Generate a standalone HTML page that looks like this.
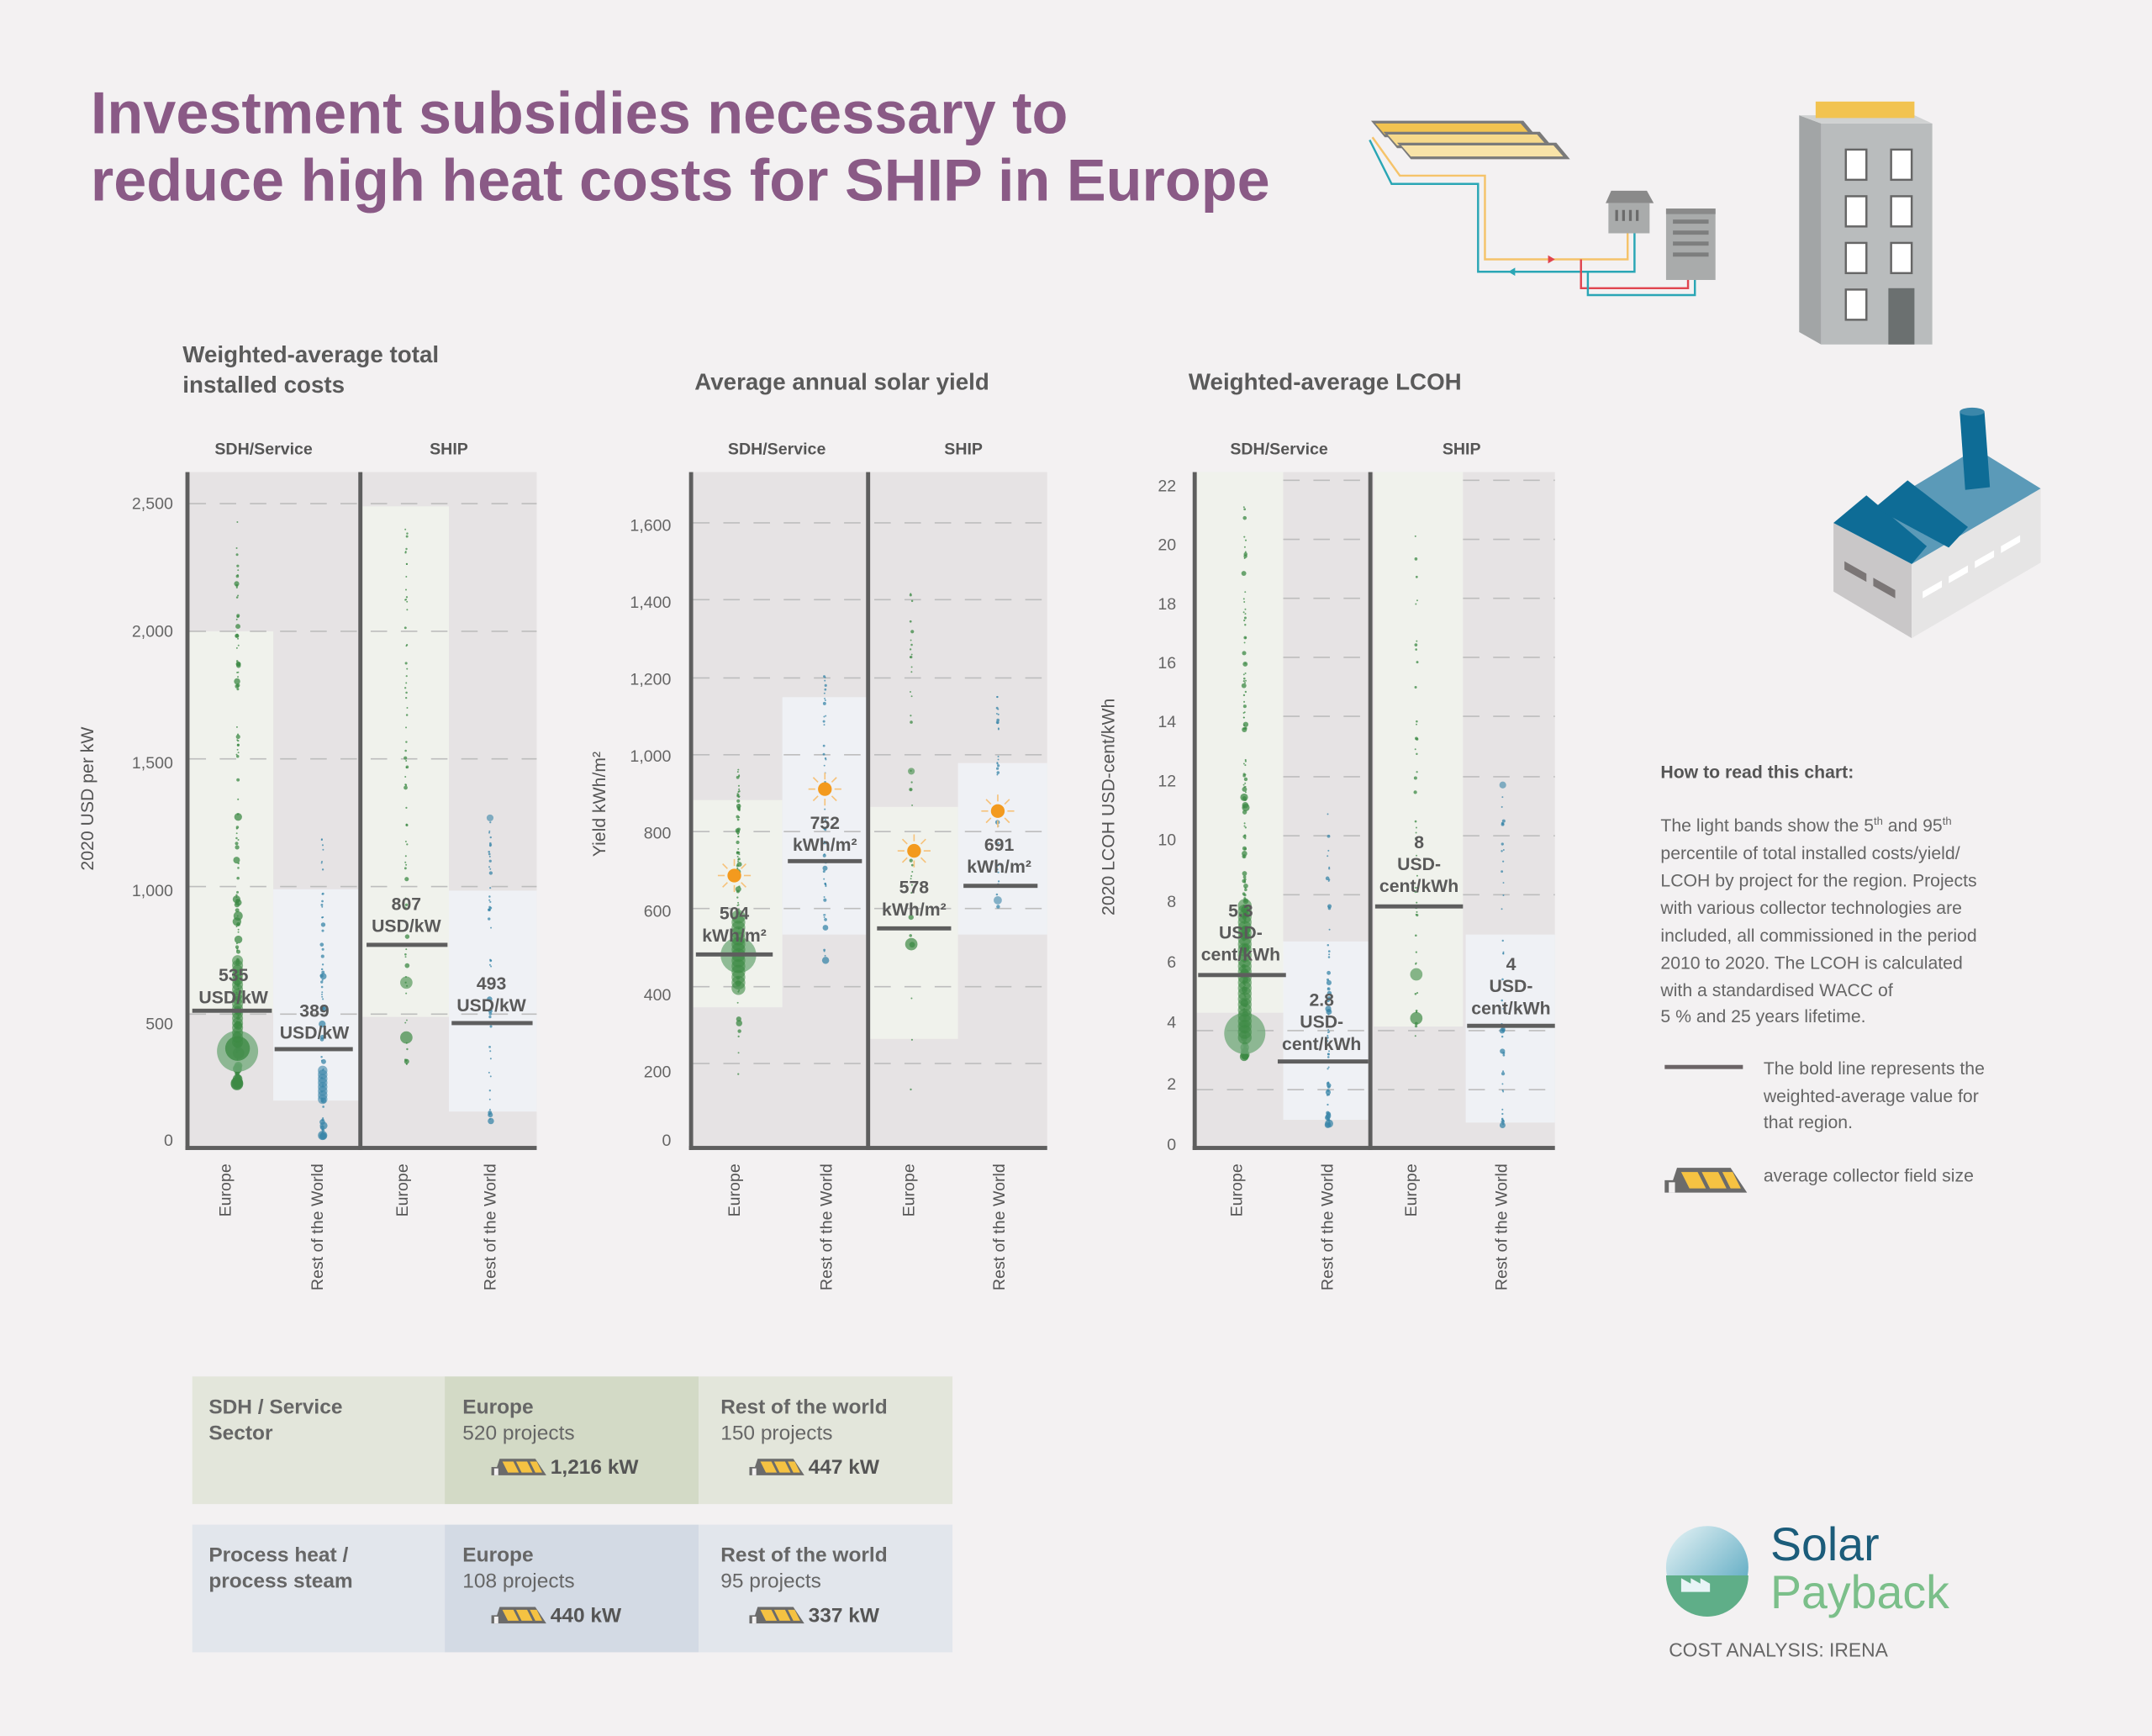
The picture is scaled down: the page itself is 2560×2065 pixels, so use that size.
<!DOCTYPE html>
<html><head><meta charset="utf-8"><style>
html,body{margin:0;padding:0;background:#f3f1f2;}
svg{display:block;}
text{font-family:"Liberation Sans",sans-serif;}
</style></head><body>
<svg id="s" width="2560" height="2065" viewBox="0 0 1568 1265" xmlns="http://www.w3.org/2000/svg">
<rect width="1568" height="1265" fill="#f3f1f2"/>
<defs>
<g id="coll"><path d="M0 14 L0 8 L4 8 L6 2 L32 2 L40 14 Z" fill="#6b6b6b"/><path d="M8 4 L16 4 L20 12 L12 12Z M18 4 L26 4 L30 12 L22 12Z M28 4 L33 4 L37 12 L32 12Z" fill="#f5c242"/><rect x="2" y="9" width="3" height="5" fill="#f3f1f2"/></g>
<g id="sun"><circle r="5" fill="#f39a1e"/><g stroke="#f6c27a" stroke-width="1"><line x1="0" y1="-12" x2="0" y2="-7"/><line x1="0" y1="12" x2="0" y2="7"/><line x1="-12" y1="0" x2="-7" y2="0"/><line x1="12" y1="0" x2="7" y2="0"/><line x1="-8.5" y1="-8.5" x2="-5" y2="-5"/><line x1="8.5" y1="8.5" x2="5" y2="5"/><line x1="-8.5" y1="8.5" x2="-5" y2="5"/><line x1="8.5" y1="-8.5" x2="5" y2="-5"/></g></g>
</defs>

<text x="66" y="97" font-size="43" font-weight="bold" fill="#8a5a86">Investment subsidies necessary to</text>
<text x="66" y="146" font-size="43" font-weight="bold" fill="#8a5a86">reduce high heat costs for SHIP in Europe</text>

<!-- illustrations: panels + pipes -->
<g>
<path d="M999 88 L1110 88 L1120 100 L1009 100Z" fill="#7a7a7a"/><path d="M1002 90 L1108 90 L1115 98 L1009 98Z" fill="#f2c350"/>
<path d="M1008 96 L1122 96 L1132 108 L1018 108Z" fill="#7a7a7a"/><path d="M1011 98 L1120 98 L1127 106 L1018 106Z" fill="#f6d98b"/>
<path d="M1018 104 L1134 104 L1144 116 L1028 116Z" fill="#7a7a7a"/><path d="M1021 106 L1132 106 L1139 114 L1028 114Z" fill="#f8e3a8"/>
<polyline points="1000,100 1020,128 1082,128 1082,189 1186,189 1186,168" fill="none" stroke="#f5c36a" stroke-width="1.5"/>
<polyline points="998,102 1014,134 1077,134 1077,198 1191,198 1191,168" fill="none" stroke="#2aa6b5" stroke-width="1.5"/>
<polyline points="1152,189 1152,210 1230,210 1230,200" fill="none" stroke="#e0454f" stroke-width="1.5"/>
<polyline points="1157,198 1157,215 1235,215 1235,200" fill="none" stroke="#2aa6b5" stroke-width="1.5"/>
<path d="M1128 186 l5 3 -5 3z" fill="#e0454f"/><path d="M1104 195 l-5 3 5 3z" fill="#2aa6b5"/>
<path d="M1170 148 L1174 139 L1200 139 L1205 148Z" fill="#8a8a8a"/><rect x="1172" y="148" width="30" height="22" fill="#a9abab"/>
<g fill="#6b6b6b"><rect x="1177" y="153" width="2" height="8"/><rect x="1182" y="153" width="2" height="8"/><rect x="1187" y="153" width="2" height="8"/><rect x="1192" y="153" width="2" height="8"/></g>
<rect x="1214" y="152" width="36" height="52" fill="#a9abab"/><rect x="1214" y="152" width="36" height="4" fill="#8a8a8a"/>
<g fill="#6b6b6b"><rect x="1219" y="160" width="26" height="3" opacity=".7"/><rect x="1219" y="168" width="26" height="3" opacity=".7"/><rect x="1219" y="176" width="26" height="3" opacity=".7"/><rect x="1219" y="184" width="26" height="3" opacity=".7"/></g>
</g>
<!-- tall building -->
<g>
<path d="M1311 84 L1327 90 L1327 251 L1311 242Z" fill="#a2a5a6"/>
<rect x="1327" y="90" width="81" height="161" fill="#b9bcbd"/>
<path d="M1311 84 L1395 84 L1408 90 L1327 90Z" fill="#d0d2d2"/>
<rect x="1323" y="74" width="72" height="12" fill="#f2c350"/>
<g fill="#fff" stroke="#666" stroke-width="1.5"><rect x="1345" y="109" width="15" height="22"/><rect x="1378" y="109" width="15" height="22"/><rect x="1345" y="143" width="15" height="22"/><rect x="1378" y="143" width="15" height="22"/><rect x="1345" y="177" width="15" height="22"/><rect x="1378" y="177" width="15" height="22"/><rect x="1345" y="211" width="15" height="22"/></g>
<rect x="1376" y="210" width="19" height="41" fill="#6b7070"/>
</g>
<!-- factory -->
<g>
<path d="M1336 381 L1393 411 L1393 465 L1336 431Z" fill="#c9c7c8"/>
<path d="M1393 411 L1487 356 L1487 410 L1393 465Z" fill="#e6e5e5"/>
<path d="M1393 411 L1487 356 L1440 327 L1352 380Z" fill="#5b9ab8"/>
<path d="M1336 381 L1360 361 L1404 398 L1393 411Z" fill="#0e6c96"/>
<path d="M1366 370 L1390 350 L1434 384 L1420 399Z" fill="#0e6c96"/>
<path d="M1428 300 L1446 300 L1450 355 L1432 357Z" fill="#0e6c96"/>
<ellipse cx="1437" cy="300" rx="9" ry="3" fill="#3b87aa"/>
<path d="M1344 409 L1360 418 L1360 424 L1344 415Z M1365 421 L1381 430 L1381 436 L1365 427Z" fill="#7b7676"/>
<path d="M1401 431 L1415 423 L1415 428 L1401 436Z M1420 420 L1434 412 L1434 417 L1420 425Z M1439 409 L1453 401 L1453 406 L1439 414Z M1458 398 L1472 390 L1472 395 L1458 403Z" fill="#fff"/>
</g>

<!-- section titles -->
<g font-size="17" font-weight="bold" fill="#5a5a5a">
<text x="133" y="264">Weighted-average total</text>
<text x="133" y="286">installed costs</text>
<text x="506" y="284">Average annual solar yield</text>
<text x="866" y="284">Weighted-average LCOH</text>
</g>
<g font-size="12" font-weight="bold" fill="#555" text-anchor="middle">
<text x="192" y="331">SDH/Service</text><text x="327" y="331">SHIP</text>
<text x="566" y="331">SDH/Service</text><text x="702" y="331">SHIP</text>
<text x="932" y="331">SDH/Service</text><text x="1065" y="331">SHIP</text>
</g>

<!-- CHART 1 -->
<rect x="136" y="344" width="255" height="493" fill="#e6e3e4"/>
<rect x="138" y="460" width="61" height="278" fill="#f0f2ec"/>
<rect x="199" y="648" width="63" height="154" fill="#eff1f5"/>
<rect x="264" y="369" width="63" height="372" fill="#f0f2ec"/>
<rect x="327" y="649" width="64" height="161" fill="#eff1f5"/>
<g stroke="#bdbdbd" stroke-width="1" stroke-dasharray="12,10">
<line x1="138" y1="367" x2="391" y2="367"/><line x1="138" y1="460" x2="391" y2="460"/><line x1="138" y1="553" x2="391" y2="553"/><line x1="138" y1="646" x2="391" y2="646"/><line x1="138" y1="739" x2="391" y2="739"/></g>
<g font-size="12" fill="#666" text-anchor="end">
<text x="126" y="371">2,500</text><text x="126" y="464">2,000</text><text x="126" y="560">1,500</text><text x="126" y="653">1,000</text><text x="126" y="750">500</text><text x="126" y="835">0</text></g>
<text transform="translate(68,582) rotate(-90)" font-size="13" fill="#555" text-anchor="middle">2020 USD per kW</text>
<g id="d1"></g>
<rect x="135" y="344" width="3" height="494" fill="#5e5e5e"/><rect x="261" y="344" width="3" height="494" fill="#5e5e5e"/><rect x="135" y="835" width="256" height="3" fill="#5e5e5e"/>

<!-- CHART 2 -->
<rect x="503" y="344" width="260" height="493" fill="#e6e3e4"/>
<rect x="505" y="583" width="65" height="151" fill="#f0f2ec"/>
<rect x="570" y="508" width="62" height="173" fill="#eff1f5"/>
<rect x="634" y="588" width="64" height="169" fill="#f0f2ec"/>
<rect x="698" y="556" width="65" height="125" fill="#eff1f5"/>
<g stroke="#bdbdbd" stroke-width="1" stroke-dasharray="12,10">
<line x1="505" y1="381" x2="763" y2="381"/><line x1="505" y1="437" x2="763" y2="437"/><line x1="505" y1="494" x2="763" y2="494"/><line x1="505" y1="550" x2="763" y2="550"/><line x1="505" y1="606" x2="763" y2="606"/><line x1="505" y1="662" x2="763" y2="662"/><line x1="505" y1="719" x2="763" y2="719"/><line x1="505" y1="775" x2="763" y2="775"/></g>
<g font-size="12" fill="#666" text-anchor="end">
<text x="489" y="387">1,600</text><text x="489" y="443">1,400</text><text x="489" y="499">1,200</text><text x="489" y="555">1,000</text><text x="489" y="611">800</text><text x="489" y="668">600</text><text x="489" y="729">400</text><text x="489" y="785">200</text><text x="489" y="835">0</text></g>
<text transform="translate(441,586) rotate(-90)" font-size="13" fill="#555" text-anchor="middle">Yield kWh/m²</text>
<g id="d2"></g>
<rect x="502" y="344" width="3" height="494" fill="#5e5e5e"/><rect x="631" y="344" width="3" height="494" fill="#5e5e5e"/><rect x="502" y="835" width="261" height="3" fill="#5e5e5e"/>

<!-- CHART 3 -->
<rect x="870" y="344" width="263" height="493" fill="#e6e3e4"/>
<rect x="872" y="344" width="63" height="394" fill="#f0f2ec"/>
<rect x="935" y="686" width="63" height="130" fill="#eff1f5"/>
<rect x="1001" y="344" width="65" height="404" fill="#f0f2ec"/>
<rect x="1068" y="681" width="65" height="137" fill="#eff1f5"/>
<g stroke="#bdbdbd" stroke-width="1" stroke-dasharray="12,10">
<line x1="935" y1="350" x2="998" y2="350"/><line x1="1066" y1="350" x2="1133" y2="350"/>
<line x1="935" y1="393" x2="998" y2="393"/><line x1="1066" y1="393" x2="1133" y2="393"/>
<line x1="935" y1="436" x2="998" y2="436"/><line x1="1066" y1="436" x2="1133" y2="436"/>
<line x1="935" y1="479" x2="998" y2="479"/><line x1="1066" y1="479" x2="1133" y2="479"/>
<line x1="935" y1="522" x2="998" y2="522"/><line x1="1066" y1="522" x2="1133" y2="522"/>
<line x1="935" y1="566" x2="998" y2="566"/><line x1="1066" y1="566" x2="1133" y2="566"/>
<line x1="935" y1="609" x2="998" y2="609"/><line x1="1066" y1="609" x2="1133" y2="609"/>
<line x1="935" y1="652" x2="998" y2="652"/><line x1="1066" y1="652" x2="1133" y2="652"/>
<line x1="872" y1="751" x2="1133" y2="751"/><line x1="872" y1="794" x2="1133" y2="794"/></g>
<g font-size="12" fill="#666" text-anchor="end">
<text x="857" y="358">22</text><text x="857" y="401">20</text><text x="857" y="444">18</text><text x="857" y="487">16</text><text x="857" y="530">14</text><text x="857" y="573">12</text><text x="857" y="616">10</text><text x="857" y="661">8</text><text x="857" y="705">6</text><text x="857" y="749">4</text><text x="857" y="794">2</text><text x="857" y="838">0</text></g>
<text transform="translate(812,588) rotate(-90)" font-size="13" fill="#555" text-anchor="middle">2020 LCOH USD-cent/kWh</text>
<g id="d3"></g>
<rect x="869" y="344" width="3" height="494" fill="#5e5e5e"/><rect x="997" y="344" width="3" height="494" fill="#5e5e5e"/><rect x="869" y="835" width="264" height="3" fill="#5e5e5e"/>

<!-- sun icons -->
<use href="#sun" x="535" y="638"/><use href="#sun" x="601" y="575"/><use href="#sun" x="666" y="620"/><use href="#sun" x="727" y="591"/>

<!-- average lines + labels -->
<g fill="#5e5e5e">
<rect x="140" y="735" width="58" height="3"/><rect x="200" y="763" width="57" height="3"/><rect x="267" y="687" width="59" height="3"/><rect x="329" y="744" width="59" height="3"/>
<rect x="507" y="694" width="56" height="3"/><rect x="574" y="626" width="54" height="3"/><rect x="639" y="675" width="54" height="3"/><rect x="702" y="644" width="54" height="3"/>
<rect x="873" y="709" width="64" height="3"/><rect x="931" y="772" width="66" height="3"/><rect x="1002" y="659" width="64" height="3"/><rect x="1069" y="746" width="64" height="3"/>
</g>
<g font-size="13" font-weight="bold" fill="#5a5a5a" text-anchor="middle">
<text x="170" y="715">535</text><text x="170" y="731">USD/kW</text>
<text x="229" y="741">389</text><text x="229" y="757">USD/kW</text>
<text x="296" y="663">807</text><text x="296" y="679">USD/kW</text>
<text x="358" y="721">493</text><text x="358" y="737">USD/kW</text>
<text x="535" y="670">504</text><text x="535" y="686">kWh/m²</text>
<text x="601" y="604">752</text><text x="601" y="620">kWh/m²</text>
<text x="666" y="651">578</text><text x="666" y="667">kWh/m²</text>
<text x="728" y="620">691</text><text x="728" y="636">kWh/m²</text>
<text x="904" y="668">5.3</text><text x="904" y="684">USD-</text><text x="904" y="700">cent/kWh</text>
<text x="963" y="733">2.8</text><text x="963" y="749">USD-</text><text x="963" y="765">cent/kWh</text>
<text x="1034" y="618">8</text><text x="1034" y="634">USD-</text><text x="1034" y="650">cent/kWh</text>
<text x="1101" y="707">4</text><text x="1101" y="723">USD-</text><text x="1101" y="739">cent/kWh</text>
</g>

<!-- x labels -->
<g font-size="12" fill="#555" text-anchor="end">
<text transform="translate(168,848) rotate(-90)">Europe</text><text transform="translate(235,848) rotate(-90)">Rest of the World</text>
<text transform="translate(297,848) rotate(-90)">Europe</text><text transform="translate(361,848) rotate(-90)">Rest of the World</text>
<text transform="translate(539,848) rotate(-90)">Europe</text><text transform="translate(606,848) rotate(-90)">Rest of the World</text>
<text transform="translate(666,848) rotate(-90)">Europe</text><text transform="translate(732,848) rotate(-90)">Rest of the World</text>
<text transform="translate(905,848) rotate(-90)">Europe</text><text transform="translate(971,848) rotate(-90)">Rest of the World</text>
<text transform="translate(1032,848) rotate(-90)">Europe</text><text transform="translate(1098,848) rotate(-90)">Rest of the World</text>
</g>

<!-- table -->
<rect x="140" y="1003" width="184" height="93" fill="#e3e6db"/><rect x="324" y="1003" width="185" height="93" fill="#d3dac6"/><rect x="509" y="1003" width="185" height="93" fill="#e3e6db"/>
<rect x="140" y="1111" width="184" height="93" fill="#e2e6ec"/><rect x="324" y="1111" width="185" height="93" fill="#d3dae4"/><rect x="509" y="1111" width="185" height="93" fill="#e2e6ec"/>
<g font-size="15" fill="#666">
<text x="152" y="1030" font-weight="bold">SDH / Service</text><text x="152" y="1049" font-weight="bold">Sector</text>
<text x="337" y="1030" font-weight="bold">Europe</text><text x="337" y="1049">520 projects</text>
<text x="525" y="1030" font-weight="bold">Rest of the world</text><text x="525" y="1049">150 projects</text>
<text x="152" y="1138" font-weight="bold">Process heat /</text><text x="152" y="1157" font-weight="bold">process steam</text>
<text x="337" y="1138" font-weight="bold">Europe</text><text x="337" y="1157">108 projects</text>
<text x="525" y="1138" font-weight="bold">Rest of the world</text><text x="525" y="1157">95 projects</text>
<g font-weight="bold" fill="#555"><text x="401" y="1074">1,216 kW</text><text x="589" y="1074">447 kW</text><text x="401" y="1182">440 kW</text><text x="589" y="1182">337 kW</text></g>
</g>
<use href="#coll" x="358" y="1061"/><use href="#coll" x="546" y="1061"/><use href="#coll" x="358" y="1169"/><use href="#coll" x="546" y="1169"/>

<!-- how to read -->
<g font-size="13" fill="#666">
<text x="1210" y="567" font-weight="bold" fill="#555">How to read this chart:</text>
<text x="1210" y="606">The light bands show the 5<tspan font-size="8" dy="-5">th</tspan><tspan dy="5"> and 95</tspan><tspan font-size="8" dy="-5">th</tspan></text>
<text x="1210" y="626">percentile of total installed costs/yield/</text>
<text x="1210" y="646">LCOH by project for the region. Projects</text>
<text x="1210" y="666">with various collector technologies are</text>
<text x="1210" y="686">included, all commissioned in the period</text>
<text x="1210" y="706">2010 to 2020. The LCOH is calculated</text>
<text x="1210" y="726">with a standardised WACC of</text>
<text x="1210" y="745">5 % and 25 years lifetime.</text>
<text x="1285" y="783">The bold line represents the</text>
<text x="1285" y="803">weighted-average value for</text>
<text x="1285" y="822">that region.</text>
<text x="1285" y="861">average collector field size</text>
</g>
<rect x="1213" y="776" width="57" height="3" fill="#6b6466"/>
<g transform="translate(1213,848) scale(1.5)"><use href="#coll"/></g>

<!-- logo -->
<defs><linearGradient id="lg" x1="0" y1="0" x2="1" y2="1"><stop offset="0" stop-color="#e8f4f6"/><stop offset="1" stop-color="#4aa0bb"/></linearGradient></defs>
<circle cx="1244" cy="1142" r="30" fill="url(#lg)"/>
<path d="M1214 1148 L1274 1148 A30 30 0 0 1 1214 1148Z" fill="#5fae88"/>
<path d="M1225 1160 L1225 1150 L1232 1154 L1232 1150 L1239 1154 L1239 1150 L1246 1154 L1246 1160Z" fill="#e8f4f6"/>
<text x="1290" y="1137" font-size="34" fill="#1b5c7a">Solar</text>
<text x="1290" y="1172" font-size="34" fill="#7bbf8a">Payback</text>
<text x="1216" y="1207" font-size="14" fill="#666">COST ANALYSIS: IRENA</text>
</svg>
<script>
(function(){
var seed=7;function r(){seed=(seed*16807)%2147483647;return seed/2147483647;}
var NS="http://www.w3.org/2000/svg";
function dot(g,x,y,rad,c,o){var e=document.createElementNS(NS,"circle");e.setAttribute("cx",x);e.setAttribute("cy",y);e.setAttribute("r",rad);e.setAttribute("fill",c);e.setAttribute("opacity",o);g.appendChild(e);}
function col(id,x,y0,y1,n,c,dense,rmax){var g=document.getElementById(id);
for(var i=0;i<n;i++){var t=Math.pow(r(),dense);var y=y1-(y1-y0)*t;var rad=0.6+Math.pow(r(),4)*rmax*(1-t*0.7);dot(g,x+(r()-0.5)*1.5,y,rad,c,0.75);}}
var G="#3d8a45",B="#3a86a8";
col("d1",173,374,790,170,G,2.5,4);dot(document.getElementById("d1"),173,766,15,"#6fa878",0.75);dot(document.getElementById("d1"),173,764,9,G,0.8);dot(document.getElementById("d1"),173,789,3.5,G,0.6);
for(var k=0;k<18;k++)dot(document.getElementById("d1"),173,700+k*3.5,4,G,0.6);
col("d1",235,610,828,70,B,1.8,3);for(var k=0;k<8;k++)dot(document.getElementById("d1"),235,780+k*3,3.5,B,0.6);
col("d1",296,378,778,70,G,1,1.5);dot(document.getElementById("d1"),296,716,4.5,G,0.6);dot(document.getElementById("d1"),296,756,4.5,G,0.7);
col("d1",357,596,820,50,B,1,2);dot(document.getElementById("d1"),357,596,2.5,B,0.6);
col("d2",538,560,788,80,G,0.6,3);dot(document.getElementById("d2"),538,696,13,"#6fa878",0.75);for(var k=0;k<14;k++)dot(document.getElementById("d2"),538,668+k*4,5,G,0.6);
col("d2",601,490,705,50,B,0.8,2.2);
col("d2",664,428,795,35,G,0.7,2.2);dot(document.getElementById("d2"),664,688,4.5,G,0.7);dot(document.getElementById("d2"),664,562,2.5,G,0.6);
col("d2",727,505,703,30,B,0.7,2);dot(document.getElementById("d2"),727,656,3,B,0.6);
col("d3",907,366,770,210,G,2.4,3.5);dot(document.getElementById("d3"),907,753,15,"#6fa878",0.75);for(var k=0;k<25;k++)dot(document.getElementById("d3"),907,660+k*4,5,G,0.6);
col("d3",968,590,820,70,B,2.2,2.5);
col("d3",1032,380,770,45,G,1,1.5);dot(document.getElementById("d3"),1032,710,4.5,G,0.6);dot(document.getElementById("d3"),1032,742,4.5,G,0.7);
col("d3",1095,572,820,45,B,1.8,2);dot(document.getElementById("d3"),1095,572,2.5,B,0.6);
})();
</script>
</body></html>
